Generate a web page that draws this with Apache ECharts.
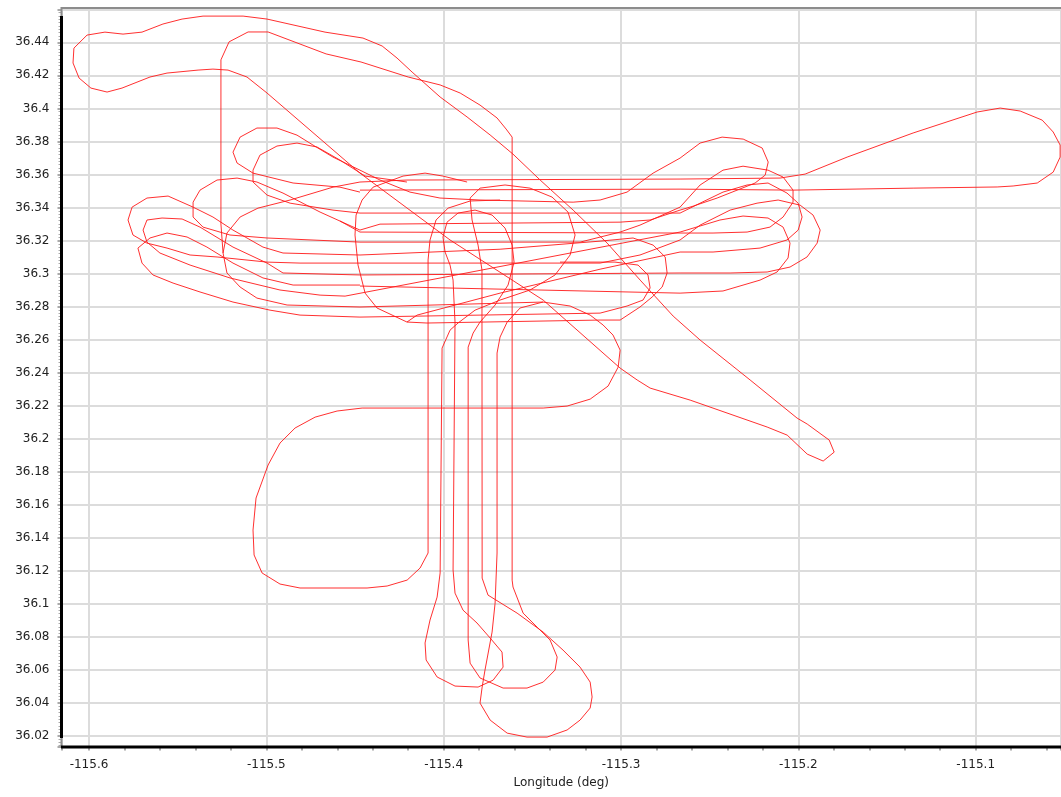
<!DOCTYPE html>
<html>
<head>
<meta charset="utf-8">
<script src="https://cdn.jsdelivr.net/npm/echarts@6/dist/echarts.min.js"></script>
<style>
  html, body { margin: 0; padding: 0; background: #fff; }
  #chart { width: 1061px; height: 797px; }
</style>
</head>
<body>
<div id="chart"></div>
<script>
// Flight track, [longitude, latitude] in degrees, split into legs.
const legNorthLoop = [
  [-115.2007, 36.2124], [-115.2272, 36.2355], [-115.2554, 36.2597], [-115.2706, 36.2742],
  [-115.2892, 36.2960], [-115.3078, 36.3184], [-115.3270, 36.3384], [-115.3456, 36.3566],
  [-115.3609, 36.3723], [-115.3738, 36.3839], [-115.3868, 36.3948], [-115.4020, 36.4069],
  [-115.4178, 36.4220], [-115.4263, 36.4305], [-115.4347, 36.4378], [-115.4455, 36.4426],
  [-115.4669, 36.4462], [-115.4996, 36.4541], [-115.5131, 36.4559], [-115.5357, 36.4559],
  [-115.5475, 36.4541], [-115.5583, 36.4511], [-115.5701, 36.4462], [-115.5808, 36.4450],
  [-115.5910, 36.4462], [-115.6011, 36.4444], [-115.6085, 36.4365], [-115.6090, 36.4275],
  [-115.6056, 36.4184], [-115.5989, 36.4123], [-115.5898, 36.4099], [-115.5814, 36.4123],
  [-115.5656, 36.4190], [-115.5560, 36.4214], [-115.5385, 36.4232], [-115.5301, 36.4238],
  [-115.5216, 36.4232], [-115.5109, 36.4190], [-115.4996, 36.4093], [-115.4472, 36.3608],
  [-115.3964, 36.3203], [-115.3439, 36.2839], [-115.3005, 36.2427], [-115.2909, 36.2355],
  [-115.2836, 36.2306], [-115.2610, 36.2233], [-115.2176, 36.2070], [-115.2063, 36.2021],
  [-115.1950, 36.1906], [-115.1860, 36.1864], [-115.1798, 36.1918], [-115.1826, 36.1991],
  [-115.1950, 36.2088], [-115.2007, 36.2124]
];

const legInnerLoop = [
  [-115.5244, 36.3124], [-115.5256, 36.3300], [-115.5256, 36.4294],
  [-115.5210, 36.4403], [-115.5103, 36.4463], [-115.4990, 36.4463], [-115.4663, 36.4330],
  [-115.4466, 36.4281], [-115.4200, 36.4190], [-115.4020, 36.4142], [-115.3907, 36.4093],
  [-115.3795, 36.4020], [-115.3699, 36.3942], [-115.3648, 36.3875], [-115.3614, 36.3826],
  [-115.3614, 36.1143], [-115.3609, 36.1101], [-115.3552, 36.0943], [-115.3473, 36.0858],
  [-115.3400, 36.0780], [-115.3360, 36.0677], [-115.3372, 36.0598], [-115.3439, 36.0525],
  [-115.3530, 36.0489], [-115.3665, 36.0489], [-115.3795, 36.0550], [-115.3851, 36.0640],
  [-115.3862, 36.0780], [-115.3862, 36.2554], [-115.3834, 36.2639], [-115.3795, 36.2706]
];

// turn from the eastern north-bound leg back onto the next south-bound leg
const legTurnA = [
  [-115.3795, 36.2706], [-115.3710, 36.2809], [-115.3637, 36.2930], [-115.3603, 36.3069],
  [-115.3614, 36.3172], [-115.3654, 36.3275], [-115.3727, 36.3354], [-115.3823, 36.3384],
  [-115.3919, 36.3366], [-115.3981, 36.3311], [-115.4004, 36.3221], [-115.3992, 36.3130],
  [-115.3964, 36.3051], [-115.3947, 36.2960], [-115.3942, 36.2839]
];

const legWestDrop = [
  [-115.3942, 36.2839], [-115.3936, 36.2706], [-115.3947, 36.1204], [-115.3936, 36.1064],
  [-115.3891, 36.0961], [-115.3812, 36.0883], [-115.3738, 36.0792], [-115.3671, 36.0707],
  [-115.3665, 36.0616], [-115.3721, 36.0537], [-115.3806, 36.0495], [-115.3936, 36.0501],
  [-115.4037, 36.0556], [-115.4099, 36.0659], [-115.4105, 36.0762], [-115.4077, 36.0901],
  [-115.4037, 36.1040], [-115.4020, 36.1186], [-115.4009, 36.2548], [-115.3964, 36.2657],
  [-115.3919, 36.2700]
];

const legTurnB = [
  [-115.3919, 36.2700], [-115.3823, 36.2778], [-115.3682, 36.2839], [-115.3513, 36.2900],
  [-115.3372, 36.2991], [-115.3287, 36.3112], [-115.3259, 36.3233], [-115.3299, 36.3372],
  [-115.3389, 36.3463], [-115.3513, 36.3517], [-115.3654, 36.3536], [-115.3795, 36.3517],
  [-115.3851, 36.3457], [-115.3840, 36.3324], [-115.3806, 36.3172], [-115.3784, 36.3021],
  [-115.3784, 36.2718]
];

const legSouthLoop = [
  [-115.3784, 36.2718], [-115.3783, 36.1155], [-115.3750, 36.1052], [-115.3586, 36.0943],
  [-115.3439, 36.0828], [-115.3327, 36.0719], [-115.3231, 36.0616], [-115.3174, 36.0525],
  [-115.3163, 36.0435], [-115.3174, 36.0368], [-115.3231, 36.0295], [-115.3304, 36.0235],
  [-115.3417, 36.0192], [-115.3530, 36.0192], [-115.3642, 36.0216], [-115.3738, 36.0295],
  [-115.3795, 36.0398], [-115.3783, 36.0495], [-115.3767, 36.0598], [-115.3727, 36.0828],
  [-115.3710, 36.1004], [-115.3699, 36.1307], [-115.3699, 36.2518], [-115.3682, 36.2615],
  [-115.3642, 36.2706], [-115.3569, 36.2791], [-115.3440, 36.2827]
];

const legWestBox = [
  [-115.3682, 36.3445], [-115.3851, 36.3439], [-115.3975, 36.3396], [-115.4043, 36.3324],
  [-115.4077, 36.3203], [-115.4088, 36.3082], [-115.4088, 36.1307], [-115.4133, 36.1216],
  [-115.4206, 36.1143], [-115.4319, 36.1107], [-115.4432, 36.1095], [-115.4810, 36.1095],
  [-115.4923, 36.1119], [-115.5024, 36.1186], [-115.5069, 36.1295], [-115.5075, 36.1446],
  [-115.5058, 36.1640], [-115.4990, 36.1840], [-115.4923, 36.1973], [-115.4838, 36.2064],
  [-115.4725, 36.2130], [-115.4601, 36.2167], [-115.4460, 36.2185], [-115.4173, 36.2185],
  [-115.3795, 36.2185], [-115.3439, 36.2185], [-115.3304, 36.2197], [-115.3174, 36.2239],
  [-115.3073, 36.2318], [-115.3016, 36.2433], [-115.3005, 36.2536], [-115.3045, 36.2627],
  [-115.3101, 36.2688], [-115.3174, 36.2748], [-115.3287, 36.2803], [-115.3440, 36.2827]
];

const legEastLoop = [
  [-115.4207, 36.3566], [-115.2667, 36.3572], [-115.2103, 36.3578], [-115.1962, 36.3602],
  [-115.1725, 36.3705], [-115.1353, 36.3851], [-115.0992, 36.3978], [-115.0862, 36.4002],
  [-115.0749, 36.3984], [-115.0625, 36.3929], [-115.0563, 36.3857], [-115.0524, 36.3778],
  [-115.0524, 36.3705], [-115.0563, 36.3614], [-115.0653, 36.3548], [-115.0789, 36.3530],
  [-115.0879, 36.3524], [-115.1353, 36.3517], [-115.2029, 36.3505], [-115.2667, 36.3511],
  [-115.4472, 36.3505]
];

// western turn back onto the 36.345 line, then out to the north-east turn
const legTurnE = [
  [-115.4472, 36.3493], [-115.4585, 36.3523], [-115.4849, 36.3548], [-115.5075, 36.3608],
  [-115.5165, 36.3669], [-115.5188, 36.3735], [-115.5148, 36.3826], [-115.5053, 36.3881],
  [-115.4940, 36.3881], [-115.4827, 36.3838], [-115.4737, 36.3778], [-115.4624, 36.3705],
  [-115.4472, 36.3626], [-115.4359, 36.3566], [-115.4190, 36.3493], [-115.4021, 36.3457],
  [-115.3795, 36.3445], [-115.3270, 36.3432], [-115.3118, 36.3445], [-115.2966, 36.3493],
  [-115.2819, 36.3608], [-115.2667, 36.3699], [-115.2554, 36.3790], [-115.2430, 36.3826],
  [-115.2311, 36.3814], [-115.2204, 36.3760], [-115.2170, 36.3675], [-115.2187, 36.3596],
  [-115.2244, 36.3548], [-115.2345, 36.3505], [-115.2458, 36.3457], [-115.2593, 36.3408],
  [-115.2667, 36.3384], [-115.2836, 36.3324], [-115.3005, 36.3311], [-115.4359, 36.3299]
];

const legTurnD = [
  [-115.4359, 36.3299], [-115.4472, 36.3263], [-115.4697, 36.3372], [-115.4906, 36.3487],
  [-115.5053, 36.3554], [-115.5165, 36.3578], [-115.5278, 36.3566], [-115.5374, 36.3505],
  [-115.5413, 36.3432], [-115.5413, 36.3342], [-115.5357, 36.3281], [-115.5205, 36.3233],
  [-115.4996, 36.3215], [-115.4472, 36.3190], [-115.3231, 36.3190], [-115.3005, 36.3251],
  [-115.2893, 36.3293], [-115.2667, 36.3402], [-115.2554, 36.3536], [-115.2425, 36.3626],
  [-115.2312, 36.3650], [-115.2171, 36.3626], [-115.2086, 36.3584], [-115.2030, 36.3505],
  [-115.2030, 36.3432], [-115.2086, 36.3342], [-115.2160, 36.3281], [-115.2289, 36.3251],
  [-115.2481, 36.3245], [-115.2667, 36.3245], [-115.4472, 36.3251], [-115.4585, 36.3318]
];

const legTurnF = [
  [-115.4207, 36.3554], [-115.4443, 36.3590], [-115.4585, 36.3687], [-115.4714, 36.3766],
  [-115.4827, 36.3790], [-115.4940, 36.3772], [-115.5036, 36.3717], [-115.5075, 36.3626],
  [-115.5075, 36.3554], [-115.4996, 36.3475], [-115.4866, 36.3426], [-115.4624, 36.3384],
  [-115.4472, 36.3366], [-115.2893, 36.3366], [-115.2667, 36.3366], [-115.2554, 36.3426],
  [-115.2425, 36.3493], [-115.2289, 36.3536], [-115.2171, 36.3548], [-115.2064, 36.3487],
  [-115.2001, 36.3426], [-115.1979, 36.3342], [-115.2001, 36.3263], [-115.2064, 36.3203],
  [-115.2216, 36.3154], [-115.2481, 36.3130], [-115.2667, 36.3130], [-115.3118, 36.3026],
  [-115.3682, 36.2881], [-115.4150, 36.2748], [-115.4207, 36.2706]
];

const legTurnA2 = [
  [-115.4472, 36.3112], [-115.4906, 36.3124], [-115.5019, 36.3160], [-115.5188, 36.3263],
  [-115.5301, 36.3342], [-115.5413, 36.3402], [-115.5554, 36.3469], [-115.5673, 36.3457],
  [-115.5757, 36.3402], [-115.5780, 36.3324], [-115.5752, 36.3233], [-115.5673, 36.3184],
  [-115.5560, 36.3154], [-115.5430, 36.3112], [-115.5278, 36.3100], [-115.4996, 36.3069],
  [-115.4810, 36.3063], [-115.4472, 36.3063], [-115.3118, 36.3063], [-115.2893, 36.3112],
  [-115.2667, 36.3203], [-115.2554, 36.3293], [-115.2385, 36.3384], [-115.2233, 36.3426],
  [-115.2114, 36.3445], [-115.1990, 36.3414], [-115.1917, 36.3354], [-115.1877, 36.3263],
  [-115.1894, 36.3184], [-115.1951, 36.3100], [-115.2047, 36.3039], [-115.2176, 36.3009],
  [-115.2385, 36.3003], [-115.2667, 36.3003], [-115.4472, 36.2991]
];

const legTurnB2 = [
  [-115.4472, 36.2991], [-115.4906, 36.3003], [-115.4996, 36.3063], [-115.5188, 36.3160],
  [-115.5374, 36.3281], [-115.5475, 36.3330], [-115.5588, 36.3336], [-115.5673, 36.3324],
  [-115.5695, 36.3263], [-115.5673, 36.3190], [-115.5600, 36.3124], [-115.5430, 36.3051],
  [-115.5205, 36.2973], [-115.4923, 36.2900], [-115.4697, 36.2869], [-115.4556, 36.2863],
  [-115.3964, 36.2984], [-115.3344, 36.3112], [-115.2667, 36.3251], [-115.2442, 36.3324],
  [-115.2312, 36.3348], [-115.2171, 36.3336], [-115.2086, 36.3281], [-115.2047, 36.3184],
  [-115.2058, 36.3094], [-115.2120, 36.3009], [-115.2216, 36.2960], [-115.2425, 36.2894],
  [-115.2667, 36.2881], [-115.4472, 36.2924]
];

const legTurnC = [
  [-115.4472, 36.2930], [-115.4849, 36.2930], [-115.5019, 36.2973], [-115.5188, 36.3063],
  [-115.5335, 36.3160], [-115.5447, 36.3221], [-115.5560, 36.3245], [-115.5656, 36.3215],
  [-115.5724, 36.3154], [-115.5701, 36.3063], [-115.5639, 36.2991], [-115.5526, 36.2942],
  [-115.5374, 36.2888], [-115.5188, 36.2827], [-115.4979, 36.2778], [-115.4810, 36.2748],
  [-115.4472, 36.2736], [-115.3118, 36.2760], [-115.2966, 36.2803], [-115.2876, 36.2839],
  [-115.2836, 36.2912], [-115.2848, 36.2991], [-115.2904, 36.3051], [-115.3034, 36.3069],
  [-115.3344, 36.3069]
];

const legWestCurve = [
  [-115.4207, 36.3566], [-115.4472, 36.3554], [-115.4624, 36.3523], [-115.4866, 36.3445],
  [-115.5047, 36.3396], [-115.5148, 36.3342], [-115.5222, 36.3245], [-115.5244, 36.3124],
  [-115.5222, 36.3003], [-115.5148, 36.2918], [-115.5053, 36.2851], [-115.4883, 36.2809],
  [-115.4472, 36.2797], [-115.3440, 36.2827]
];

const legCentralLoop = [
  [-115.3868, 36.3554], [-115.4004, 36.3590], [-115.4105, 36.3608], [-115.4229, 36.3590],
  [-115.4398, 36.3523], [-115.4460, 36.3445], [-115.4494, 36.3354], [-115.4500, 36.3233],
  [-115.4483, 36.3051], [-115.4443, 36.2881], [-115.4376, 36.2791], [-115.4207, 36.2706],
  [-115.4094, 36.2700], [-115.3118, 36.2718], [-115.3005, 36.2718], [-115.2893, 36.2797],
  [-115.2825, 36.2857], [-115.2768, 36.2918], [-115.2740, 36.3003], [-115.2751, 36.3100],
  [-115.2819, 36.3172], [-115.2932, 36.3215], [-115.3118, 36.3196], [-115.3682, 36.3147],
  [-115.4472, 36.3112]
];

const CHART_FONT = 'DejaVu Sans, Verdana, sans-serif';
const legs = [
  legNorthLoop, legInnerLoop, legTurnA, legWestDrop, legTurnB, legSouthLoop, legWestBox,
  legEastLoop, legTurnE, legTurnD, legTurnF, legTurnA2, legTurnB2, legTurnC,
  legWestCurve, legCentralLoop
];

const chart = echarts.init(document.getElementById('chart'), null, { renderer: 'canvas' });

chart.setOption({
  animation: false,
  backgroundColor: '#ffffff',
  grid: { left: 61.5, top: 9.5, right: 0, bottom: 50.5 },
  xAxis: {
    type: 'value',
    min: -115.6155,
    max: -115.0519,
    splitNumber: 6,
    name: 'Longitude (deg)',
    nameLocation: 'middle',
    nameGap: 30,
    nameTextStyle: { fontFamily: CHART_FONT, fontSize: 12, color: '#222' },
    axisLine: { show: false },
    axisTick: { show: true, length: 4, lineStyle: { color: '#aaaaaa', width: 2 } },
    minorTick: { show: true, splitNumber: 5, length: 4, lineStyle: { color: '#aaaaaa', width: 2 } },
    axisLabel: {
      showMinLabel: false, showMaxLabel: false, margin: 12,
      fontFamily: CHART_FONT, fontSize: 12, color: '#222',
      formatter: v => String(Math.round(v * 10) / 10)
    },
    splitLine: { show: true, lineStyle: { color: '#dcdcdc', width: 2 } }
  },
  yAxis: {
    type: 'value',
    min: 36.0135,
    max: 36.4599,
    splitNumber: 22,
    axisLine: { show: false },
    axisTick: { show: true, length: 4, lineStyle: { color: '#aaaaaa', width: 2 } },
    minorTick: { show: true, splitNumber: 10, length: 3, lineStyle: { color: '#aaaaaa', width: 1 } },
    axisLabel: {
      showMinLabel: false, showMaxLabel: false, margin: 12,
      fontFamily: CHART_FONT, fontSize: 12, color: '#222',
      formatter: v => String(Math.round(v * 100) / 100)
    },
    splitLine: { show: true, lineStyle: { color: '#dcdcdc', width: 2 } }
  },
  graphic: [
    { type: 'rect', z: 100, shape: { x: 61, y: 7, width: 1000, height: 2 }, style: { fill: '#8c8c8c' } },
    { type: 'rect', z: 100, shape: { x: 60.5, y: 7, width: 2, height: 741 }, style: { fill: '#8c8c8c' } },
    { type: 'rect', z: 101, shape: { x: 60, y: 16, width: 3, height: 722 }, style: { fill: '#000000' } },
    { type: 'rect', z: 101, shape: { x: 61, y: 745.5, width: 1000, height: 3 }, style: { fill: '#000000' } }
  ],
  series: legs.map((leg, i) => ({
    type: 'line',
    name: 'leg' + i,
    data: leg,
    showSymbol: false,
    symbol: 'none',
    smooth: false,
    clip: true,
    lineStyle: { color: '#ff1a1a', width: 1, opacity: 0.9 }
  }))
});
</script>
</body>
</html>
